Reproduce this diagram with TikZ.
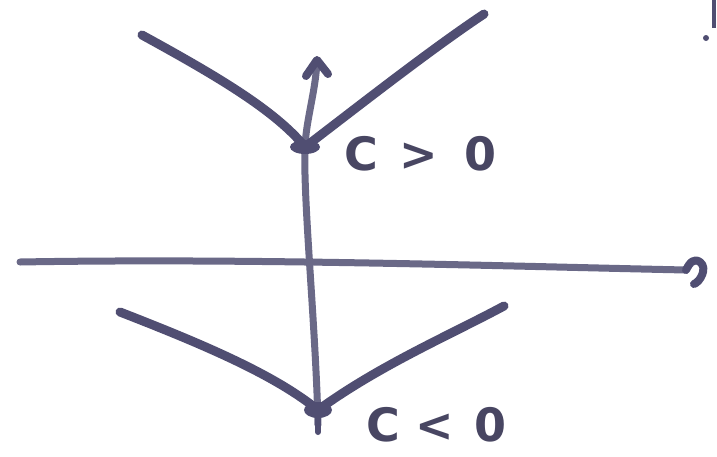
\documentclass[tikz,border=0pt]{standalone}
\usepackage{fontspec}
\setmainfont{DejaVu Sans}
\definecolor{ink}{RGB}{80,78,114}
\definecolor{inkdark}{RGB}{72,70,98}
\begin{document}
\begin{tikzpicture}[x=1pt,y=-1pt,
  stroke/.style={draw=ink,line width=9pt,line cap=round,line join=round},
  axis/.style={draw=ink!85,line width=7pt,line cap=round},
  lbl/.style={text=inkdark,font=\fontsize{46}{48}\selectfont\bfseries,inner sep=0pt,anchor=west}]
\useasboundingbox (0,0) rectangle (717,456);
% coordinates
\coordinate (xl) at (20,262);
\coordinate (xr) at (686,270);
\coordinate (yb) at (318,425);
\coordinate (yt) at (317,60);
\coordinate (v1) at (305,147);
\coordinate (v2) at (318,410);
\coordinate (a1) at (142,35);
\coordinate (b1) at (484,14);
\coordinate (a2) at (120,312);
\coordinate (b2) at (504,306);
% horizontal axis with hooked end
\draw[axis] (xl) .. controls (250,258) and (500,266) .. (xr);
\draw[stroke,line width=8pt] (xr) .. controls (690,262) and (694,258) .. (700,262) .. controls (708,268) and (700,282) .. (694,284);
% vertical axis
\draw[axis] (yb) .. controls (316,330) and (303,200) .. (v1) .. controls (306,120) and (316,90) .. (yt);
\draw[stroke,line width=8pt] (306,76) -- (yt) -- (328,74);
% upper curve
\draw[stroke] (a1) .. controls (215,75) and (275,110) .. (v1) .. controls (360,105) and (430,50) .. (b1);
\fill[ink] (v1) ellipse (15pt and 7pt);
% lower curve
\draw[stroke] (a2) .. controls (205,345) and (275,375) .. (v2) .. controls (380,365) and (450,335) .. (b2);
\fill[ink] (v2) ellipse (14pt and 8pt);
\draw[stroke,line width=6pt] (318,412) -- (318,432);
% labels
\node[lbl] (l1) at (344,154) {C\hspace{22pt}>\hspace{26pt}0};
\node[lbl] (l2) at (366,425) {C\hspace{16pt}<\hspace{20pt}0};
% edge smudge
\draw[draw=ink,line width=4pt] (714,0) -- (714,28);
\fill[ink] (706,38) circle (3pt);
\end{tikzpicture}
\end{document}
